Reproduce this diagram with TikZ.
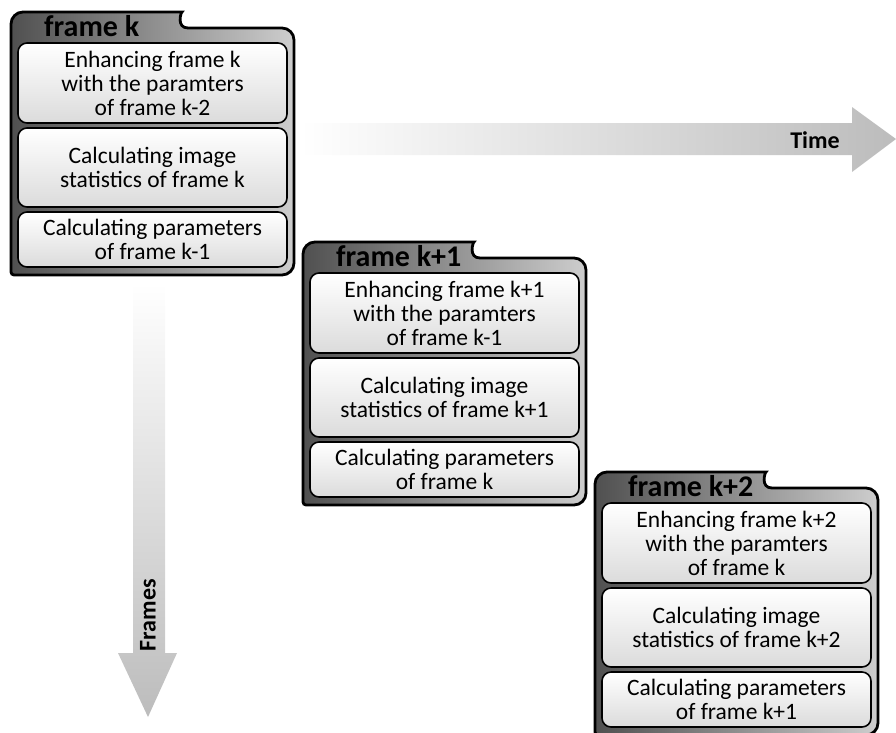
\documentclass[tikz,border=0pt]{standalone}
\usepackage{fontspec}
\setmainfont{Carlito}
\usetikzlibrary{positioning,calc,backgrounds}
\definecolor{arrowgray}{RGB}{188,188,188}
\definecolor{foldark}{RGB}{80,80,80}
\definecolor{follight}{RGB}{205,205,205}

\begin{document}
\begin{tikzpicture}[x=1pt,y=1pt,
  fbox/.style={draw,line width=1.6pt,rounded corners=9pt,top color=white,bottom color=black!14,
    minimum width=269pt,align=center,inner sep=2pt,outer sep=0pt,font=\fontsize{23.5}{24}\selectfont},
  enh/.style={fbox,minimum height=80pt},
  stat/.style={fbox,minimum height=79pt},
  prm/.style={fbox,minimum height=55pt},
  folder/.style={draw,line width=2.8pt,left color=foldark,right color=follight},
  tablabel/.style={anchor=base west,inner sep=0pt,font=\bfseries\fontsize{30}{30}\selectfont},
  arrowlabel/.style={font=\bfseries\fontsize{24}{24}\selectfont}]

  \useasboundingbox (0,0) rectangle (896,-732);

  % time arrow
  \coordinate (tstart) at (300,-139);
  \coordinate (ttip) at (896,-139);
  \shade[left color=white,right color=arrowgray] ($(tstart)+(0,16)$) -- ($(ttip)+(-44,16)$)
    -- ($(ttip)+(-44,32)$) -- (ttip) -- ($(ttip)+(-44,-33)$) -- ($(ttip)+(-44,-16)$)
    -- ($(tstart)+(0,-16)$) -- cycle;
  \node[arrowlabel] (time) at (815,-140) {Time};

  % frames arrow
  \coordinate (fstart) at (149,-283);
  \coordinate (ftip) at (148,-717);
  \shade[top color=white,bottom color=arrowgray] ($(fstart)+(-16,0)$) -- ($(ftip)+(-15,64)$)
    -- ($(ftip)+(-30,64)$) -- (ftip) -- ($(ftip)+(29,64)$) -- ($(ftip)+(17,64)$)
    -- ($(fstart)+(16,0)$) -- cycle;
  \node[arrowlabel,rotate=90] (frames) at (148,-615) {Frames};

  % frame k
  \node[enh] (e1) at (152.5,-83) {Enhancing frame k\\with the paramters\\of frame k-2};
  \node[stat,below=5pt of e1] (s1) {Calculating image\\statistics of frame k};
  \node[prm,below=5pt of s1] (p1) {Calculating parameters\\of frame k-1};

  % frame k+1
  \node[enh,below right=6pt and 23pt of p1] (e2) {Enhancing frame k+1\\with the paramters\\of frame k-1};
  \node[stat,below=5pt of e2] (s2) {Calculating image\\statistics of frame k+1};
  \node[prm,below=5pt of s2] (p2) {Calculating parameters\\of frame k};

  % frame k+2
  \node[enh,below right=6pt and 23pt of p2] (e3) {Enhancing frame k+2\\with the paramters\\of frame k};
  \node[stat,below=5pt of e3] (s3) {Calculating image\\statistics of frame k+2};
  \node[prm,below=5pt of s3] (p3) {Calculating parameters\\of frame k+1};

  % folders behind the boxes
  \begin{scope}[on background layer]
    \foreach \i/\lab in {1/k,2/k+1,3/k+2} {
      \draw[folder] ($(p\i.south west)+(-7,-8)$) [rounded corners=12pt]
        -- ($(e\i.north west)+(-7,31)$) -- ($(e\i.north west)+(152,31)$) [rounded corners=0pt]
        .. controls ($(e\i.north west)+(163,31)$) and ($(e\i.north west)+(158,15)$) .. ($(e\i.north west)+(170,15)$)
        [rounded corners=12pt] -- ($(p\i.south east |- e\i.north west)+(7,15)$)
        -- ($(p\i.south east)+(7,-8)$) [rounded corners=3pt] -- cycle;
      \node[tablabel] (tab\i) at ($(e\i.north west)+(26,7)$) {frame \lab};
    }
  \end{scope}

\end{tikzpicture}
\end{document}
